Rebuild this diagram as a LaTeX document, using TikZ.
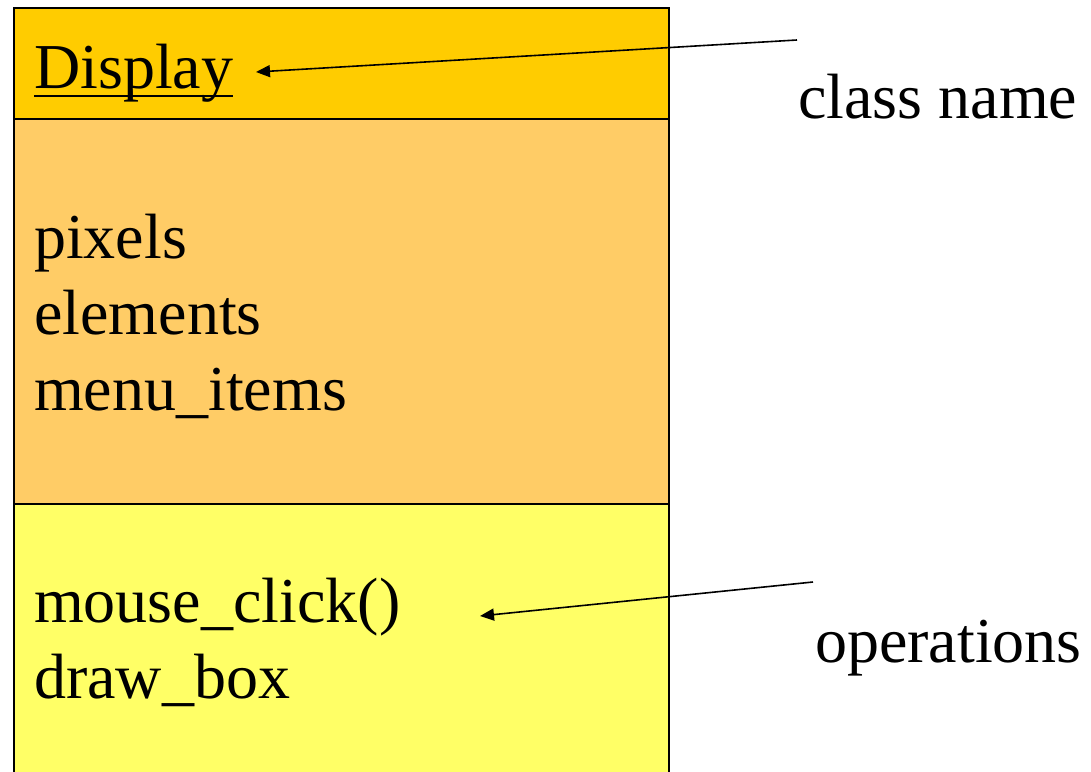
\documentclass[tikz,border=0pt]{standalone}
\usepackage{fontspec}
\setmainfont{Liberation Serif}
\usetikzlibrary{arrows.meta}
\begin{document}
\begin{tikzpicture}[x=1pt,y=-1pt,
  lbl/.style={anchor=base west,inner sep=0pt,font=\fontsize{64}{76}\selectfont},
  frame/.style={line width=2.5pt},
  pointer/.style={line width=1.6pt,-{Triangle[length=14pt,width=12pt]}}]
\useasboundingbox (0,0) rectangle (1091,771);
\clip (0,0) rectangle (1091,771);
% compartments of the class box
\fill[fill={rgb,255:red,255;green,204;blue,0}] (14,8) rectangle (669,119);
\fill[fill={rgb,255:red,255;green,204;blue,102}] (14,119) rectangle (669,504);
\fill[fill={rgb,255:red,255;green,255;blue,102}] (14,504) rectangle (669,790);
\draw[frame] (14,790) -- (14,8) -- (669,8) -- (669,790);
\draw[frame] (14,119) -- (669,119);
\draw[frame] (14,504) -- (669,504);
% class name, underlined
\node[lbl] (name) at (34,88) {Display};
\draw[line width=2pt] ([yshift=-8pt]name.base west) -- ([yshift=-8pt]name.base east);
% attributes
\node[lbl] (a1) at (34,258) {pixels};
\node[lbl] (a2) at (34,334) {elements};
\node[lbl] (a3) at (34,410) {menu\_items};
% operations
\node[lbl] (o1) at (34,622) {mouse\_click()};
\node[lbl] (o2) at (34,698) {draw\_box};
% annotations
\node[lbl] (cn) at (798,118) {class name};
\node[lbl] (op) at (815,662) {operations};
\coordinate (cnfrom) at (797,40);
\coordinate (cnto) at (256,72);
\coordinate (opfrom) at (813,582);
\coordinate (opto) at (480,616);
\draw[pointer] (cnfrom) -- (cnto);
\draw[pointer] (opfrom) -- (opto);
\end{tikzpicture}
\end{document}
